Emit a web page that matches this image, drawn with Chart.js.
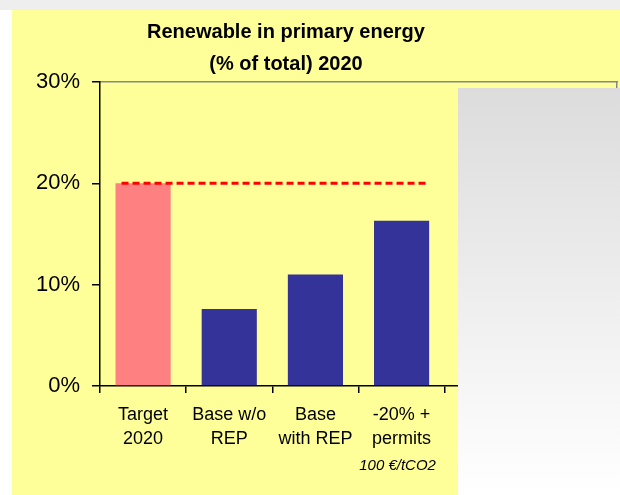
<!DOCTYPE html>
<html lang="en">
<head>
  <meta charset="UTF-8">
  <title>Renewable in primary energy</title>
  <script src="https://cdn.jsdelivr.net/npm/chart.js"></script>
  <style>
    html, body { margin: 0; padding: 0; }
    body { width: 620px; height: 495px; position: relative; overflow: hidden; background: #ffffff; }
    .strip { position: absolute; left: 0; top: 0; width: 620px; height: 10px; background: #eeeeee; }
    .panel { position: absolute; left: 12px; top: 10px; width: 608px; height: 485px; background: #ffff99; }
    .title {
      position: absolute; left: 86px; top: 15px; width: 400px; text-align: center;
      font: bold 20px "Liberation Sans", Arial, sans-serif; line-height: 32px; color: #000;
    }
    canvas { position: absolute; left: 0; top: 0; }
    .cover { position: absolute; left: 458px; top: 88px; width: 162px; height: 407px; background: linear-gradient(#dcdcdc, #ffffff); }
  </style>
</head>
<body>
  <div class="strip"></div>
  <div class="panel"></div>
  <canvas id="chart" width="620" height="495"></canvas>
  <div class="title">Renewable in primary energy<br>(% of total) 2020</div>
  <div class="cover"></div>

  <script>
    // data
    const categories = [['Target', '2020'], ['Base w/o', 'REP'], ['Base', 'with REP'], ['-20% +', 'permits'], '', ''];
    const renewableShare = [20, 7.6, 11.0, 16.3, null, null];
    const barColors = ['#ff8080', '#333399', '#333399', '#333399', '#333399', '#333399'];
    const targetLevel = 20;
    const targetLineX = [0.25, 3.8];   // in category units
    const noteCategory = 3;
    const noteText = '100 €/tCO2';

    const FONT = '"Liberation Sans", Arial, sans-serif';

    const notePlugin = {
      id: 'note',
      afterDraw(chart) {
        const ctx = chart.ctx;
        const x = chart.scales.x.getPixelForValue(noteCategory) - 4;
        ctx.save();
        ctx.font = 'italic 15px ' + FONT;
        ctx.fillStyle = '#000';
        ctx.textAlign = 'center';
        ctx.textBaseline = 'alphabetic';
        ctx.fillText(noteText, x, chart.chartArea.bottom + 84);
        ctx.restore();
      }
    };

    new Chart(document.getElementById('chart'), {
      type: 'bar',
      data: {
        labels: categories,
        datasets: [
          {
            type: 'line',
            data: targetLineX.map(x => ({ x: x, y: targetLevel })),
            xAxisID: 'xl',
            yAxisID: 'y',
            borderColor: '#ff0000',
            borderWidth: 3,
            borderDash: [7, 4],
            pointRadius: 0,
            order: 1
          },
          {
            data: renewableShare,
            xAxisID: 'x',
            backgroundColor: barColors,
            grouped: false,
            barPercentage: 0.64,
            categoryPercentage: 1,
            order: 2
          }
        ]
      },
      options: {
        responsive: false,
        animation: false,
        layout: { padding: { top: 82, right: 3, left: 0, bottom: 0 } },
        plugins: { legend: { display: false }, title: { display: false }, tooltip: { enabled: false } },
        scales: {
          x: {
            position: 'bottom',
            grid: { display: true, drawOnChartArea: false, offset: true, tickLength: 7, color: '#000', lineWidth: 1.5 },
            border: { color: '#000', width: 1.5 },
            ticks: { color: '#000', font: { family: FONT, size: 18, lineHeight: 1.35 }, padding: 10, maxRotation: 0, autoSkip: false },
            afterFit(s) { s.height = 109; }
          },
          xl: { type: 'linear', display: false, offset: false, min: 0, max: 6 },
          xt: {
            type: 'linear', position: 'top', offset: false, min: 0, max: 1,
            grid: { display: false, offset: false }, ticks: { display: false },
            border: { color: '#888888', width: 1.5 },
            afterFit(s) { s.height = 0; }
          },
          y: {
            min: 0, max: 30,
            grid: { drawOnChartArea: false, tickLength: 8, color: '#000', lineWidth: 1.5 },
            border: { color: '#000', width: 1.5 },
            ticks: { stepSize: 10, color: '#000', padding: 12, font: { family: FONT, size: 22 }, callback: v => v + '%' },
            afterFit(s) { s.width = 100; }
          },
          yr: {
            type: 'linear', position: 'right', min: 0, max: 1,
            grid: { display: false }, ticks: { display: false },
            border: { color: '#888888', width: 1.5 },
            afterFit(s) { s.width = 0; }
          }
        }
      },
      plugins: [notePlugin]
    });
  </script>
</body>
</html>
